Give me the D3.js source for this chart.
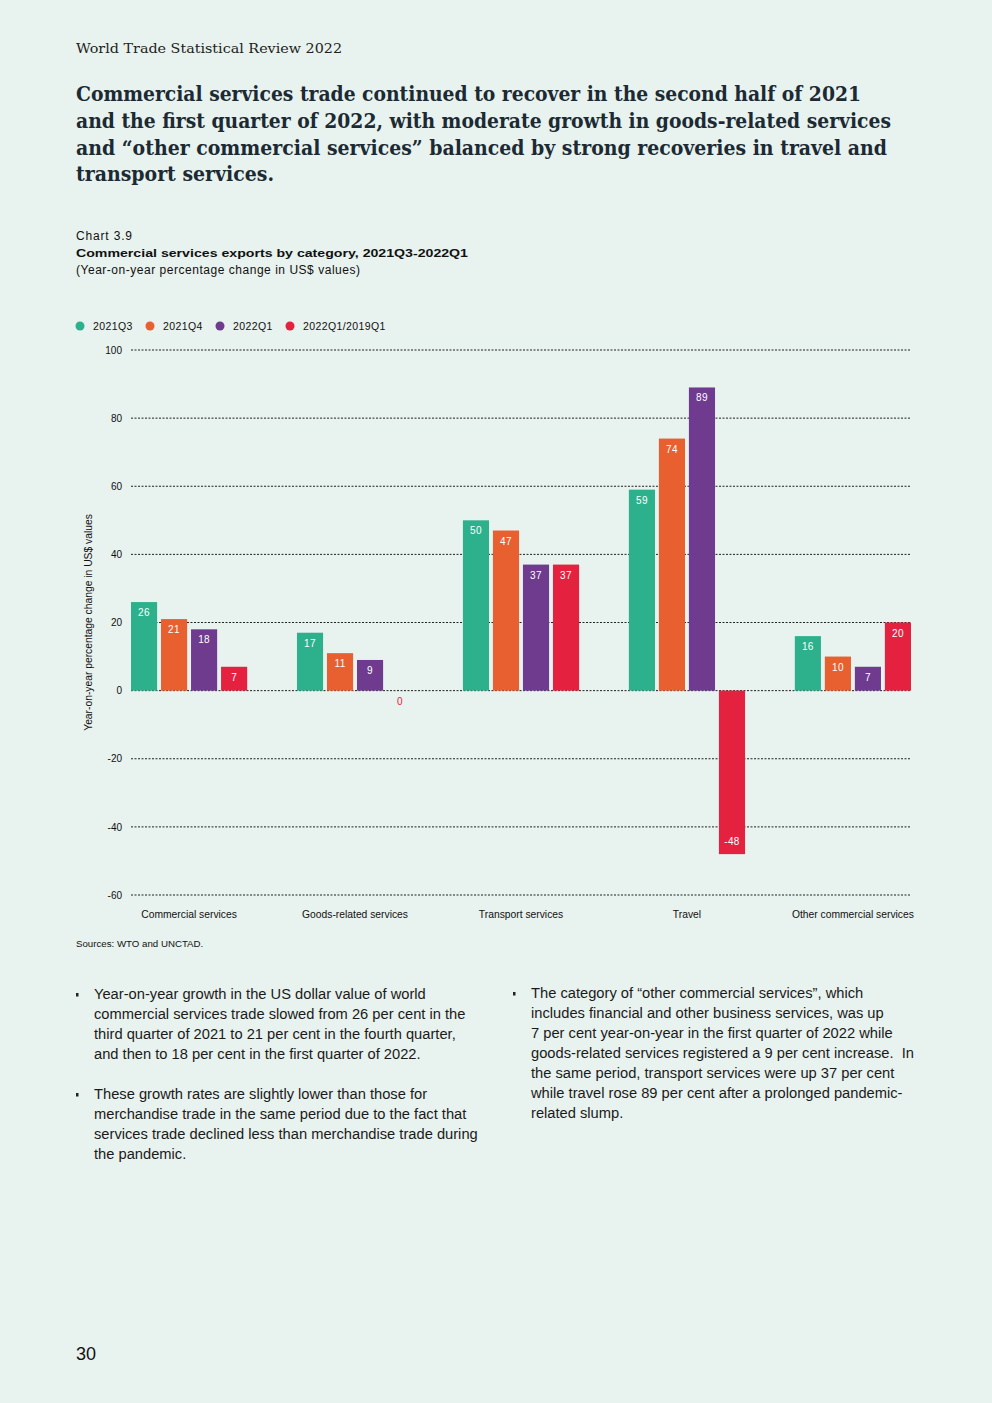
<!DOCTYPE html>
<html>
<head>
<meta charset="utf-8">
<script src="https://cdn.jsdelivr.net/npm/d3@7"></script>
<style>
  html, body { margin: 0; padding: 0; background: #e8f2ee; }
  svg { display: block; }
  text { white-space: pre; }
</style>
</head>
<body>
<div id="page"></div>
<script>
// chart values
var categories = ["Commercial services", "Goods-related services", "Transport services", "Travel", "Other commercial services"];
var seriesNames = ["2021Q3", "2021Q4", "2022Q1", "2022Q1/2019Q1"];
var q3_2021 = [26, 17, 50, 59, 16];
var q4_2021 = [21, 11, 47, 74, 10];
var q1_2022 = [18, 9, 37, 89, 7];
var q1_2022_vs_2019 = [7, 0, 37, -48, 20];
var yTicks = [-60, -40, -20, 0, 20, 40, 60, 80, 100];
var colors = ["#2db18d", "#e85f30", "#6f3b8e", "#e42240"];

var titleLines = [
  "Commercial services trade continued to recover in the second half of 2021",
  "and the first quarter of 2022, with moderate growth in goods-related services",
  "and \u201cother commercial services\u201d balanced by strong recoveries in travel and",
  "transport services."
];
var leftText = [
  ["Year-on-year growth in the US dollar value of world",
   "commercial services trade slowed from 26 per cent in the",
   "third quarter of 2021 to 21 per cent in the fourth quarter,",
   "and then to 18 per cent in the first quarter of 2022."],
  ["These growth rates are slightly lower than those for",
   "merchandise trade in the same period due to the fact that",
   "services trade declined less than merchandise trade during",
   "the pandemic."]
];
var rightText = [
  ["The category of \u201cother commercial services\u201d, which",
   "includes financial and other business services, was up",
   "7 per cent year-on-year in the first quarter of 2022 while",
   "goods-related services registered a 9 per cent increase.  In",
   "the same period, transport services were up 37 per cent",
   "while travel rose 89 per cent after a prolonged pandemic-",
   "related slump."]
];

var seriesValues = [q3_2021, q4_2021, q1_2022, q1_2022_vs_2019];
var data = categories.map(function(c, i) {
  return { cat: c, vals: seriesNames.map(function(s, j) { return { series: s, idx: j, value: seriesValues[j][i] }; }) };
});

var W = 992, H = 1403;
var serif = "'DejaVu Serif', serif";
var sans = "'Liberation Sans', Arial, sans-serif";
var narrow = "'Liberation Sans Narrow', 'Liberation Sans', sans-serif";
var ink = "#1b2a33";

var svg = d3.select("#page").append("svg").attr("width", W).attr("height", H);
svg.append("rect").attr("width", W).attr("height", H).attr("fill", "#e8f2ee");

// header
svg.append("text").attr("x", 76).attr("y", 53)
  .attr("font-family", serif).attr("font-size", 13.5).attr("fill", "#222")
  .attr("textLength", 266).attr("lengthAdjust", "spacingAndGlyphs")
  .text("World Trade Statistical Review 2022");

var titleWidths = [785, 815, 811, 198];
titleLines.forEach(function(t, i) {
  svg.append("text").attr("x", 76).attr("y", 101 + i * 26.8)
    .attr("font-family", serif).attr("font-weight", "bold").attr("font-size", 21)
    .attr("fill", ink)
    .attr("textLength", titleWidths[i]).attr("lengthAdjust", "spacingAndGlyphs")
    .text(t);
});

// chart titles
svg.append("text").attr("x", 76).attr("y", 240).attr("font-family", sans).attr("font-size", 12).attr("fill", "#111")
  .attr("textLength", 56).attr("lengthAdjust", "spacing").text("Chart 3.9");
svg.append("text").attr("x", 76).attr("y", 257).attr("font-family", sans).attr("font-weight", "bold").attr("font-size", 11.5).attr("fill", "#111")
  .attr("textLength", 392).attr("lengthAdjust", "spacingAndGlyphs")
  .text("Commercial services exports by category, 2021Q3-2022Q1");
svg.append("text").attr("x", 76).attr("y", 274).attr("font-family", sans).attr("font-size", 12).attr("fill", "#111")
  .attr("textLength", 284).attr("lengthAdjust", "spacing")
  .text("(Year-on-year percentage change in US$ values)");

// legend
var legendX = [80, 150, 220, 290];
var legend = svg.selectAll(".leg").data(seriesNames).enter().append("g")
  .attr("transform", function(d, i) { return "translate(" + legendX[i] + ",326)"; });
legend.append("circle").attr("r", 4.5).attr("fill", function(d, i) { return colors[i]; });
legend.append("text").attr("x", 13).attr("y", 3.5).attr("font-family", sans).attr("font-size", 10.5)
  .attr("letter-spacing", 0.4).attr("fill", "#111").text(function(d) { return d; });

// scales
var x0 = d3.scaleBand().domain(categories).range([131, 911]).paddingInner(0.3).paddingOuter(0);
var x1 = d3.scaleBand().domain(seriesNames).range([0, x0.bandwidth()]).paddingInner(0.13);
var y = d3.scaleLinear().domain([-60, 100]).range([895, 350]);

// grid
var grid = svg.append("g");
grid.selectAll("line").data(yTicks).enter().append("line")
  .attr("x1", 131).attr("x2", 910)
  .attr("y1", function(d) { return y(d); }).attr("y2", function(d) { return y(d); })
  .attr("stroke", "#222").attr("stroke-width", 1).attr("stroke-dasharray", "2,1.5");

var yAxis = svg.append("g").attr("transform", "translate(124,0)")
  .call(d3.axisLeft(y).tickValues(yTicks).tickSize(0).tickPadding(2).tickFormat(function(d) { return String(d); }));
yAxis.select(".domain").remove();
yAxis.selectAll("text").attr("font-family", sans).attr("font-size", 10).attr("fill", "#111");

svg.append("text")
  .attr("transform", "translate(92," + y(20) + ") rotate(-90)")
  .attr("text-anchor", "middle").attr("font-family", sans).attr("font-size", 10.3).attr("fill", "#111")
  .text("Year-on-year percentage change in US$ values");

// bars
var groups = svg.selectAll(".grp").data(data).enter().append("g")
  .attr("transform", function(d) { return "translate(" + x0(d.cat) + ",0)"; });
groups.selectAll("rect").data(function(d) { return d.vals; }).enter().append("rect")
  .attr("x", function(d) { return x1(d.series); })
  .attr("width", x1.bandwidth())
  .attr("y", function(d) { return y(Math.max(0, d.value)); })
  .attr("height", function(d) { return Math.abs(y(d.value) - y(0)); })
  .attr("fill", function(d) { return colors[d.idx]; });
groups.selectAll(".lbl").data(function(d) { return d.vals; }).enter().append("text")
  .attr("x", function(d) { return x1(d.series) + x1.bandwidth() / 2; })
  .attr("y", function(d) {
    if (d.value > 0) return y(d.value) + 14;
    if (d.value < 0) return y(d.value) - 9;
    return y(0) + 14;
  })
  .attr("text-anchor", "middle").attr("font-family", sans).attr("font-size", 10)
  .attr("letter-spacing", 0.4)
  .attr("fill", function(d) { return d.value === 0 ? colors[d.idx] : "#fff"; })
  .text(function(d) { return String(d.value); });

// category labels
svg.selectAll(".cat").data(categories).enter().append("text")
  .attr("x", function(d) { return x0(d) + x0.bandwidth() / 2; }).attr("y", 918)
  .attr("text-anchor", "middle").attr("font-family", sans).attr("font-size", 10.3).attr("fill", "#111")
  .text(function(d) { return d; });

svg.append("text").attr("x", 76).attr("y", 947).attr("font-family", sans).attr("font-size", 9.7).attr("fill", "#111").text("Sources: WTO and UNCTAD.");

// body text
function bullets(paras, xb, xt, y0) {
  var yy = y0;
  paras.forEach(function(lines) {
    svg.append("rect").attr("x", xb).attr("y", yy - 6).attr("width", 2.5).attr("height", 3.5).attr("fill", "#222");
    lines.forEach(function(l) {
      svg.append("text").attr("x", xt).attr("y", yy).attr("font-family", narrow).attr("font-size", 14.7).attr("fill", "#1a1a1a").text(l);
      yy += 20;
    });
    yy += 20;
  });
}
bullets(leftText, 76, 94, 999);
bullets(rightText, 513, 531, 998);

svg.append("text").attr("x", 76).attr("y", 1360).attr("font-family", sans).attr("font-size", 18).attr("fill", "#111").text("30");
</script>
</body>
</html>
